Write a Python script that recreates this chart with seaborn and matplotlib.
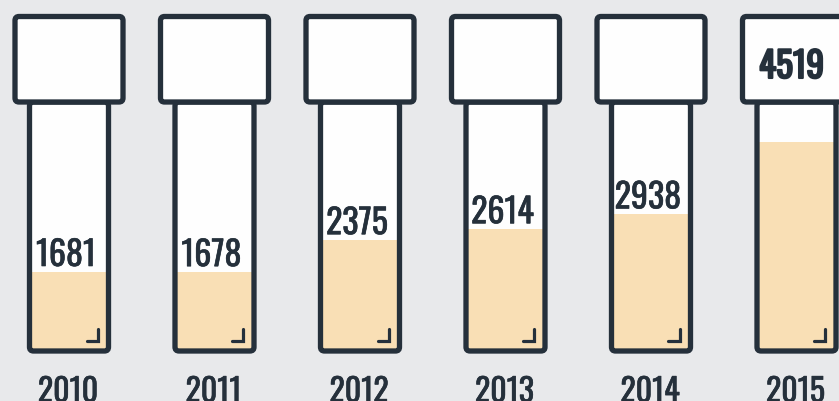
import matplotlib
matplotlib.use("Agg")
import matplotlib.pyplot as plt
from matplotlib.patches import FancyBboxPatch
import matplotlib.patheffects as pe
import seaborn as sns
import pandas as pd

# ---- data ----
years = ["2010", "2011", "2012", "2013", "2014", "2015"]
values = [1681, 1678, 2375, 2614, 2938, 4519]

# ---- style ----
BG = "#e8e9eb"
FILL = "#f9dfb5"
INK = "#25303b"
WHITE = "#fefefe"

sns.set_theme(style="white")
FONT = ['Oswald', 'Antonio', 'Bebas Neue', 'DejaVu Sans']
plt.rcParams['font.family'] = FONT

W, H = 839, 401
fig = plt.figure(figsize=(W / 100, H / 100), dpi=100, facecolor=BG)
ax = fig.add_axes([0, 0, 1, 1])
ax.set_facecolor(BG)

PITCH = 145.5          # px between tubes
X0 = 69                # px centre of first tube
Y0 = 349               # px of zero level (from top)
SCALE = 130 / 2838     # px per unit
xpx = 1 / PITCH        # data-x per px
ypx = 1 / SCALE        # data-y per px
LW = 5.3 * 0.72        # stroke in points

df = pd.DataFrame({"year": years, "value": values})
sns.barplot(data=df, x="year", y="value", ax=ax, color=FILL, saturation=1,
            width=76 * xpx, linewidth=0, errorbar=None, zorder=2)

aspect = ypx / xpx
r = 4 * xpx
body_top = (Y0 - 102) * ypx
cap_top = (Y0 - 16.5) * ypx

heavy = [pe.withStroke(linewidth=0.45, foreground=INK)]
heavier = [pe.withStroke(linewidth=1.5, foreground=INK)]

for i, v in enumerate(values):
    bx = i - 79 / 2 * xpx
    by = -2 * ypx
    bh = body_top - by
    ax.add_patch(FancyBboxPatch((bx, by), 79 * xpx, bh,
                                boxstyle=f"round,pad=0,rounding_size={r}",
                                mutation_aspect=aspect, facecolor=WHITE,
                                edgecolor="none", zorder=1))
    ax.add_patch(FancyBboxPatch((bx, by), 79 * xpx, bh,
                                boxstyle=f"round,pad=0,rounding_size={r}",
                                mutation_aspect=aspect, facecolor="none",
                                edgecolor=INK, linewidth=LW, zorder=3))
    ax.add_patch(FancyBboxPatch((i - 108 / 2 * xpx, body_top), 108 * xpx,
                                cap_top - body_top,
                                boxstyle=f"round,pad=0,rounding_size={r}",
                                mutation_aspect=aspect, facecolor=WHITE,
                                edgecolor=INK, linewidth=LW, zorder=4))
    # corner mark
    ax.plot([i + 17.5 * xpx, i + 28.5 * xpx, i + 28.5 * xpx],
            [8 * ypx, 8 * ypx, 20 * ypx], color=INK, lw=2.3,
            solid_capstyle='round', solid_joinstyle='miter', zorder=3)

    # value label
    if v + 40 * ypx > body_top:
        ax.text(i - 5 * xpx, (Y0 - 78) * ypx, f"{v}", ha="center", va="baseline",
                fontsize=25.5, fontweight="bold", color=INK, zorder=5,
                path_effects=heavier)
    else:
        ax.text(i - 3 * xpx, v + 6 * ypx, f"{v}", ha="center", va="baseline",
                fontsize=24.5, color=INK, zorder=5, path_effects=heavy)
    # year label
    ax.text(i - 1 * xpx, (Y0 - 402) * ypx, years[i], ha="center", va="baseline",
            fontsize=23, color=INK, fontweight="medium", zorder=5,
            path_effects=heavy)

ax.set_xlim(-X0 / PITCH, (W - X0) / PITCH)
ax.set_ylim(-(H - Y0) * ypx, Y0 * ypx)
ax.set_axis_off()

fig.savefig("out.png", dpi=100, facecolor=BG)
